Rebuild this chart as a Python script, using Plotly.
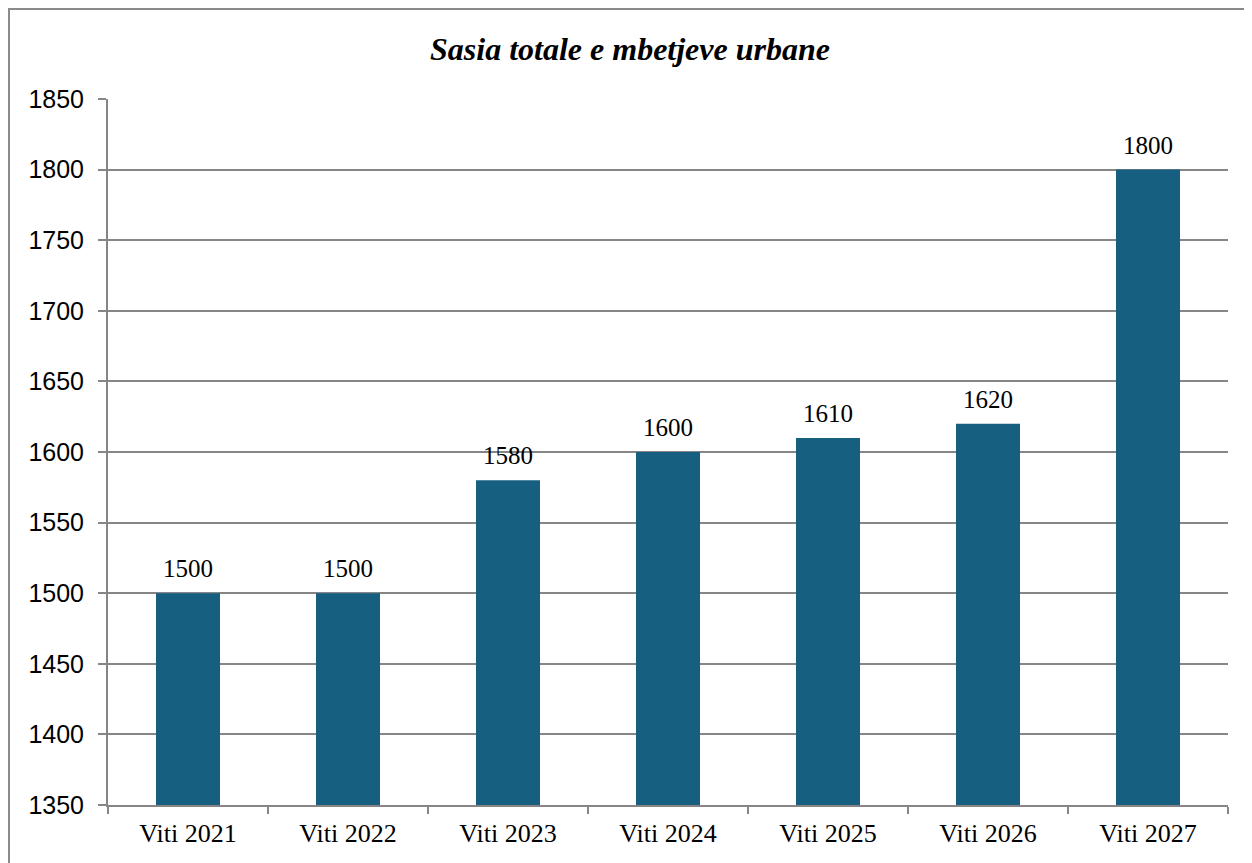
import plotly.graph_objects as go

categories = ["Viti 2021", "Viti 2022", "Viti 2023", "Viti 2024", "Viti 2025", "Viti 2026", "Viti 2027"]
values = [1500, 1500, 1580, 1600, 1610, 1620, 1800]
title_text = "Sasia totale e mbetjeve urbane"

# page body has an 8px margin; size the figure to the visible area
W, H = 1244, 855
L, R, T, B = 100, 24, 91, 58
pw, ph = W - L - R, H - T - B

fig = go.Figure()
fig.add_trace(go.Bar(
    x=categories, y=values, width=0.4,
    marker=dict(color="#175F80", line=dict(width=0)),
))

for c, v in zip(categories, values):
    fig.add_annotation(x=c, y=v, text=str(v), showarrow=False, yanchor="bottom",
                       yshift=9, font=dict(family="Liberation Serif", size=25, color="black"))

# outer border
fig.add_shape(type="rect", xref="paper", yref="paper",
              x0=(1 - L) / pw, x1=1 + (R + 20) / pw,
              y0=-(B + 20) / ph, y1=1 + (T - 1) / ph,
              line=dict(color="#8a8a8a", width=2), fillcolor="rgba(0,0,0,0)", layer="below")

fig.update_layout(
    width=W, height=H,
    margin=dict(l=L, r=R, t=T, b=B),
    paper_bgcolor="white", plot_bgcolor="white",
    showlegend=False,
    title=dict(text="<b><i>" + title_text + "</i></b>", x=(630 - 8) / W, xanchor="center",
               xref="container", y=1 - 41 / H, yanchor="middle",
               font=dict(family="Liberation Serif", size=32, color="black")),
    xaxis=dict(type="category", tickson="boundaries", ticks="outside", ticklen=7,
               tickcolor="#868686", tickwidth=2, showline=True, linecolor="#868686", linewidth=2,
               showgrid=False, ticklabelstandoff=4,
               tickfont=dict(family="Liberation Serif", size=26, color="black")),
    yaxis=dict(range=[1350, 1850], dtick=50, ticks="outside", ticklen=8,
               tickcolor="#868686", tickwidth=2, showline=True, linecolor="#868686", linewidth=2,
               showgrid=True, gridcolor="#868686", gridwidth=2, zeroline=False,
               ticklabelstandoff=9,
               tickfont=dict(family="Liberation Sans", size=25, color="black")),
)
fig.write_html("out.html")
